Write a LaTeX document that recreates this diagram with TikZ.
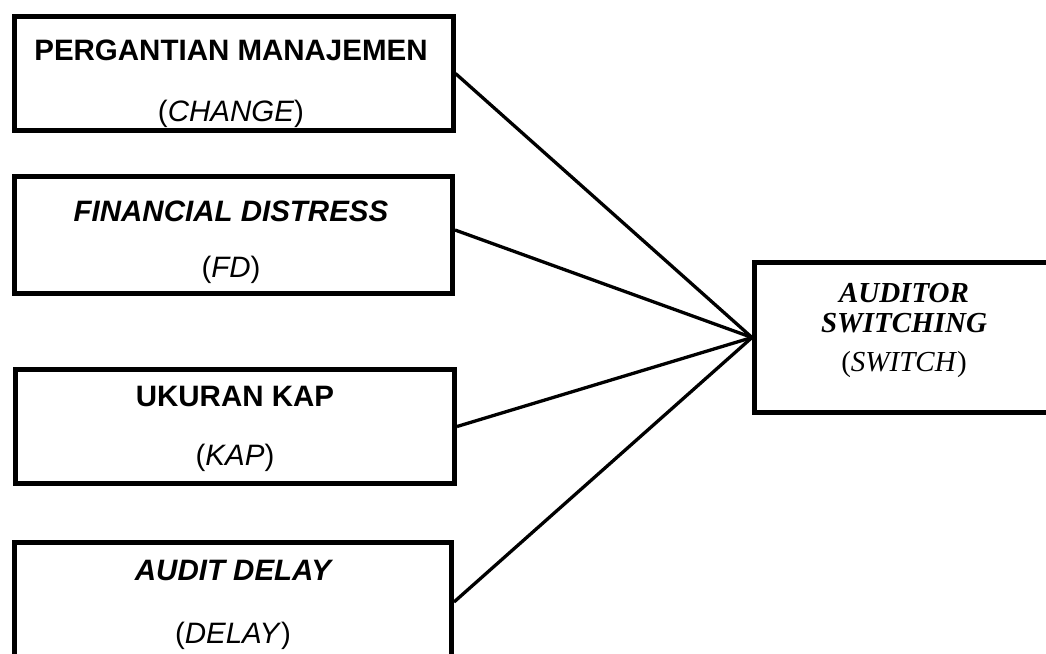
\documentclass[tikz,border=0pt]{standalone}
\usepackage{fontspec}
\setmainfont{Liberation Sans}
\newfontfamily\tnr{Liberation Serif}
\begin{document}
\begin{tikzpicture}[x=1pt,y=-1pt,
  varbox/.style={draw=black,line width=5pt,rectangle,inner sep=0pt},
  conn/.style={draw=black,line width=3.3pt},
  lbl/.style={inner sep=0pt,font=\fontsize{29.5}{31}\selectfont},
  rlbl/.style={inner sep=0pt,align=center,font=\tnr\fontsize{29}{30}\selectfont}]
\useasboundingbox (0,0) rectangle (1046,653);
\begin{scope}
\clip (0,0) rectangle (1046,653);
% left boxes
\node[varbox,minimum width=438.5pt,minimum height=114pt] (b1) at (233.75,73.5) {};
\node[varbox,minimum width=438pt,minimum height=117pt] (b2) at (233.5,235) {};
\node[varbox,minimum width=439pt,minimum height=114pt] (b3) at (235,426.5) {};
\node[varbox,minimum width=437pt,minimum height=119pt] (b4) at (233,602) {};
% right box
\node[varbox,minimum width=303pt,minimum height=150pt] (sw) at (906,337.5) {};
% texts
\node[lbl] (t1a) at (231,50) {\bfseries PERGANTIAN MANAJEMEN};
\node[lbl] (t1b) at (231,114) {(\textit{CHANGE})};
\node[lbl] (t2a) at (231,211) {\bfseries\itshape FINANCIAL DISTRESS};
\node[lbl] (t2b) at (231,270) {(\textit{FD})};
\node[lbl] (t3a) at (235,396) {\bfseries UKURAN KAP};
\node[lbl] (t3b) at (235,458) {(\textit{KAP})};
\node[lbl] (t4a) at (233,570) {\bfseries\itshape AUDIT DELAY};
\node[lbl] (t4b) at (233,636) {(\textit{DELAY})};
\node[rlbl] (t5a) at (904,308) {\bfseries\itshape AUDITOR\\\bfseries\itshape SWITCHING};
\node[rlbl] (t5b) at (904,365) {(\textit{SWITCH})};
% connectors
\draw[conn] (b1.east) -- (sw.west);
\draw[conn] ([yshift=5pt]b2.east) -- (sw.west);
\draw[conn] (b3.east) -- (sw.west);
\draw[conn] (b4.east) -- (sw.west);
\end{scope}
\end{tikzpicture}
\end{document}
